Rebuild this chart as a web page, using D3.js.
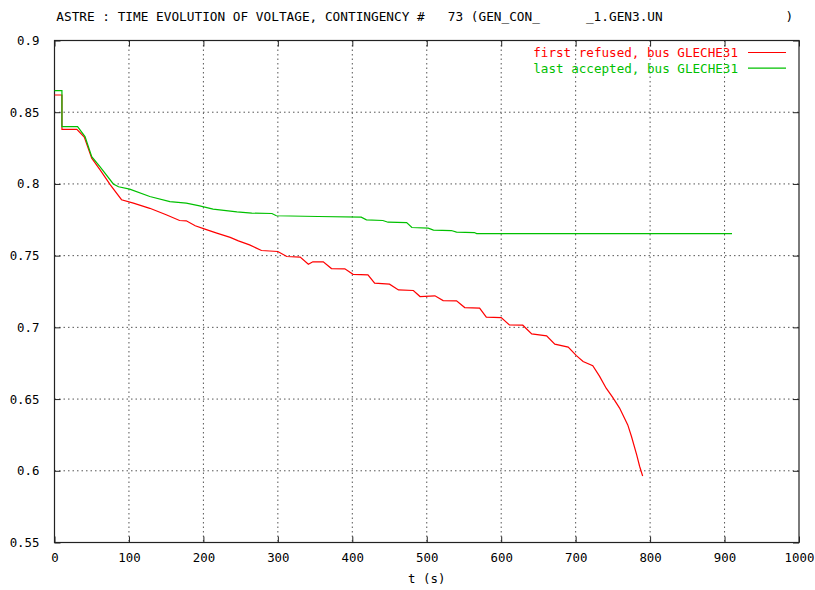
<!DOCTYPE html>
<html><head><meta charset="utf-8">
<script src="https://cdn.jsdelivr.net/npm/d3@7"></script>
<style>
html,body{margin:0;padding:0;background:#fff;}
text{font-family:"DejaVu Sans Mono",monospace;}
</style></head>
<body><svg id="chart" width="815" height="590"></svg>
<script>
const titleText = "ASTRE : TIME EVOLUTION OF VOLTAGE, CONTINGENCY #   73 (GEN_CON_      _1.GEN3.UN                )";
const xLabel = "t (s)";
const xTicks = [0,100,200,300,400,500,600,700,800,900,1000];
const yTicks = [0.55,0.6,0.65,0.7,0.75,0.8,0.85,0.9];
const yTickLabels = ["0.55","0.6","0.65","0.7","0.75","0.8","0.85","0.9"];
const seriesNames = ["first refused, bus GLECHE31","last accepted, bus GLECHE31"];
const seriesColors = ["#ff0000","#00c000"];

const refusedT = [0,10,10,30,40,50,61,75,90,106,128,150,168,177,189,202,218,236,247,262,278,300,312,330,341,347,361,372,390,401,421,430,450,462,482,491,511,522,540,551,571,580,600,611,629,641,661,672,690,701,710,723,732,741,750,759,770,775,782,786,790];
const refusedV = [0.862,0.862,0.838,0.838,0.8326,0.818,0.810,0.7994,0.789,0.7866,0.783,0.7785,0.7745,0.7743,0.7708,0.7685,0.7657,0.7627,0.7603,0.7575,0.7536,0.7529,0.7494,0.749,0.744,0.7457,0.7457,0.741,0.7408,0.737,0.7366,0.7308,0.7301,0.7261,0.7257,0.7215,0.722,0.7187,0.7185,0.7138,0.7134,0.7071,0.7068,0.7017,0.7015,0.6955,0.6941,0.6883,0.6862,0.6803,0.6762,0.6732,0.666,0.6576,0.651,0.6437,0.632,0.6239,0.6111,0.603,0.5964];

const acceptedT = [0,10,10,31,41,50,61,79,86,101,128,155,177,195,213,245,265,292,298,354,412,419,441,448,473,480,502,509,533,540,564,567,638,910];
const acceptedV = [0.865,0.865,0.840,0.840,0.833,0.819,0.812,0.800,0.798,0.7964,0.7912,0.7877,0.7866,0.7847,0.7824,0.7805,0.7796,0.7794,0.7778,0.7773,0.7768,0.775,0.7745,0.7733,0.773,0.7696,0.7692,0.7678,0.7675,0.7664,0.7661,0.7654,0.7654,0.7654];

const L = 54.5, R = 799, T = 40.5, B = 542.5;
const svg = d3.select("#chart");
const x = d3.scaleLinear().domain([0,1000]).range([L,R]);
const y = d3.scaleLinear().domain([0.55,0.9]).range([B,T]);

// grid
const grid = svg.append("g");
grid.selectAll("line.vx").data(xTicks.slice(1,-1)).join("line")
  .attr("x1",d=>x(d)).attr("x2",d=>x(d)).attr("y1",T).attr("y2",B)
  .attr("stroke","#555").attr("stroke-width",1).attr("stroke-dasharray","1.5,3");
grid.selectAll("line.hy").data(yTicks.slice(1,-1)).join("line")
  .attr("y1",d=>y(d)).attr("y2",d=>y(d)).attr("x1",L).attr("x2",R)
  .attr("stroke","#555").attr("stroke-width",1).attr("stroke-dasharray","1.5,3");

// axes with inward ticks (mirrored)
const fmtY = (d,i)=>yTickLabels[i];
svg.append("g").attr("transform",`translate(0,${B})`)
  .call(d3.axisBottom(x).tickValues(xTicks).tickSize(-6).tickPadding(11).tickFormat(d3.format("d")))
  .call(g=>{g.select(".domain").remove(); g.selectAll("text").attr("font-size","12.4px").attr("font-family","DejaVu Sans Mono").attr("fill","#000");});
svg.append("g").attr("transform",`translate(0,${T})`)
  .call(d3.axisTop(x).tickValues(xTicks).tickSize(-6).tickFormat(""))
  .call(g=>g.select(".domain").remove());
svg.append("g").attr("transform",`translate(${L},0)`)
  .call(d3.axisLeft(y).tickValues(yTicks).tickSize(-6).tickPadding(15).tickFormat(fmtY))
  .call(g=>{g.select(".domain").remove(); g.selectAll("text").attr("font-size","12.4px").attr("font-family","DejaVu Sans Mono").attr("fill","#000");});
svg.append("g").attr("transform",`translate(${R},0)`)
  .call(d3.axisRight(y).tickValues(yTicks).tickSize(-6).tickFormat(""))
  .call(g=>g.select(".domain").remove());
svg.selectAll(".tick line").attr("stroke","#222");

// frame
svg.append("rect").attr("x",L).attr("y",T).attr("width",R-L).attr("height",B-T)
  .attr("fill","none").attr("stroke","#222").attr("stroke-width",1.2);

// lines
const line = d3.line().x(d=>x(d[0])).y(d=>y(d[1]));
const series = [
  d3.zip(refusedT, refusedV),
  d3.zip(acceptedT, acceptedV)
];
series.forEach((s,i)=>{
  svg.append("path").datum(s).attr("d",line).attr("fill","none")
    .attr("stroke",seriesColors[i]).attr("stroke-width",1.2);
});

// legend
seriesNames.forEach((n,i)=>{
  const ly = 52.5 + i*15.6;
  svg.append("text").attr("x",738).attr("y",ly).attr("dy","0.35em")
    .attr("text-anchor","end").attr("font-size","12.6px").attr("fill",seriesColors[i]).text(n);
  svg.append("line").attr("x1",748).attr("x2",786).attr("y1",ly).attr("y2",ly)
    .attr("stroke",seriesColors[i]).attr("stroke-width",1.2);
});

// title
svg.append("text").attr("x",(L+R)/2 - 2).attr("y",17).attr("dy","0.35em").attr("text-anchor","middle")
  .attr("font-size","12.75px").attr("fill","#000").style("white-space","pre").attr("xml:space","preserve")
  .text(titleText);
// x label
svg.append("text").attr("x",(L+R)/2).attr("y",579).attr("dy","0.35em").attr("text-anchor","middle")
  .attr("font-size","12.4px").attr("fill","#000").style("white-space","pre").text(xLabel);
</script>
</body></html>
